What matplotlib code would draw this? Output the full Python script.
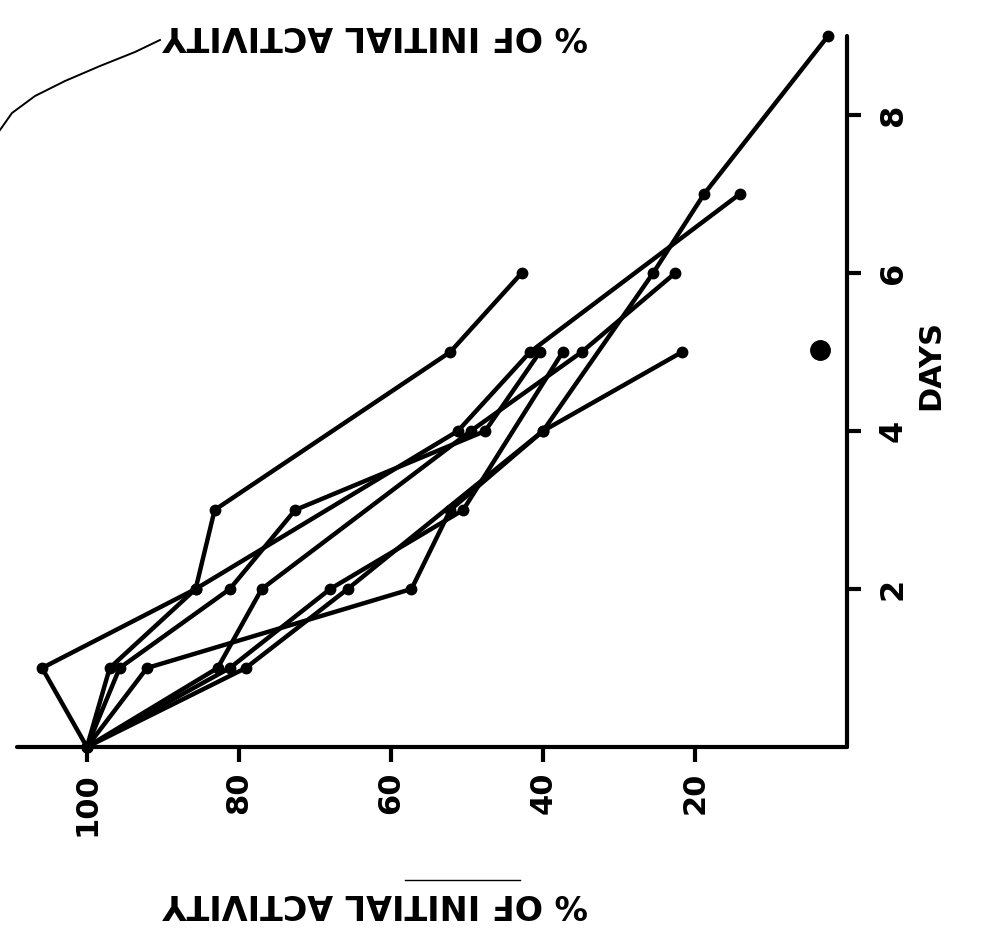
import matplotlib
matplotlib.use("Agg")
import matplotlib.pyplot as plt
from matplotlib.lines import Line2D

# ---- data (day, % of initial activity) ----
s1_days = [0, 1, 2, 3, 5, 6]
s1_vals = [100, 97.0, 85.7, 83.2, 52.2, 42.8]
s2_days = [0, 1, 2, 4, 5, 7]
s2_vals = [100, 105.9, 85.7, 51.2, 41.7, 14.1]
s3_days = [0, 1, 2, 3, 4, 5]
s3_vals = [100, 95.7, 81.2, 72.6, 47.6, 40.4]
s4_days = [0, 1, 2, 3, 4, 6, 7, 9]
s4_vals = [100, 92.1, 57.3, 52.2, 40.0, 25.5, 18.8, 2.5]
s5_days = [0, 1, 2, 4, 5, 6]
s5_vals = [100, 82.8, 77.0, 49.5, 34.9, 22.6]
s6_days = [0, 1, 2, 3, 5]
s6_vals = [100, 81.2, 68.0, 50.5, 37.4]
s7_days = [0, 1, 2, 4, 5]
s7_vals = [100, 79.1, 65.7, 40.0, 21.7]

pct_ticks = [100, 80, 60, 40, 20]
day_ticks = [2, 4, 6, 8]
pct_label = "% OF INITIAL ACTIVITY"
day_label = "DAYS"

series = [(s1_days, s1_vals), (s2_days, s2_vals), (s3_days, s3_vals),
          (s4_days, s4_vals), (s5_days, s5_vals), (s6_days, s6_vals),
          (s7_days, s7_vals)]

W, H = 996, 940
fig = plt.figure(figsize=(W / 100, H / 100), dpi=100)
fig.patch.set_facecolor("white")

# axes box in pixels: x 17..847, y 36..747
L, R, T, B = 17, 847, 36, 747
ax = fig.add_axes([L / W, 1 - B / H, (R - L) / W, (B - T) / H])
ax.set_xlim(109.2, 0)
ax.set_ylim(0, 9.0)

for d, v in series:
    ax.plot(v, d, color="black", lw=3.2, marker="o", ms=7.5,
            solid_joinstyle="round", solid_capstyle="round", clip_on=False)

for s in ["top", "left"]:
    ax.spines[s].set_visible(False)
for s in ["bottom", "right"]:
    ax.spines[s].set_linewidth(3.0)
    ax.spines[s].set_capstyle("round")

ax.yaxis.tick_right()
ax.set_xticks(pct_ticks)
ax.set_xticklabels([str(t) for t in pct_ticks], rotation=90,
                   fontsize=22, fontweight="bold")
ax.set_yticks(day_ticks)
ax.set_yticklabels([str(t) for t in day_ticks], rotation=90,
                   fontsize=23, fontweight="bold", va="center")
ax.tick_params(axis="x", direction="out", length=11, width=3.0, pad=7)
ax.tick_params(axis="y", direction="out", length=10, width=3.0, pad=12)
ax.set_facecolor("white")

# axis titles (rotated as in the scanned page)
fig.text(931 / W, 1 - 365 / H, day_label, rotation=90, fontsize=22,
         fontweight="bold", ha="center", va="center")
fig.text(375 / W, 1 - 903 / H, pct_label, rotation=180, fontsize=24,
         fontweight="bold", ha="center", va="center")
fig.text(375 / W, 1 - 36 / H, pct_label, rotation=180, fontsize=24,
         fontweight="bold", ha="center", va="center")

# hand-drawn stroke near the top label and scan marks
cx = [0, 12, 35, 65, 100, 135, 160]
cy = [130, 113, 96, 81, 66, 52, 40]
fig.add_artist(Line2D([x / W for x in cx], [1 - y / H for y in cy],
                      color="black", lw=1.4))
fig.add_artist(Line2D([405 / W, 520 / W], [1 - 880 / H, 1 - 880 / H],
                      color="black", lw=1.0))
fig.add_artist(Line2D([820 / W], [1 - 350 / H], marker="o", ms=14,
                      color="black", lw=0))

fig.savefig("out.png", dpi=100, facecolor="white")
